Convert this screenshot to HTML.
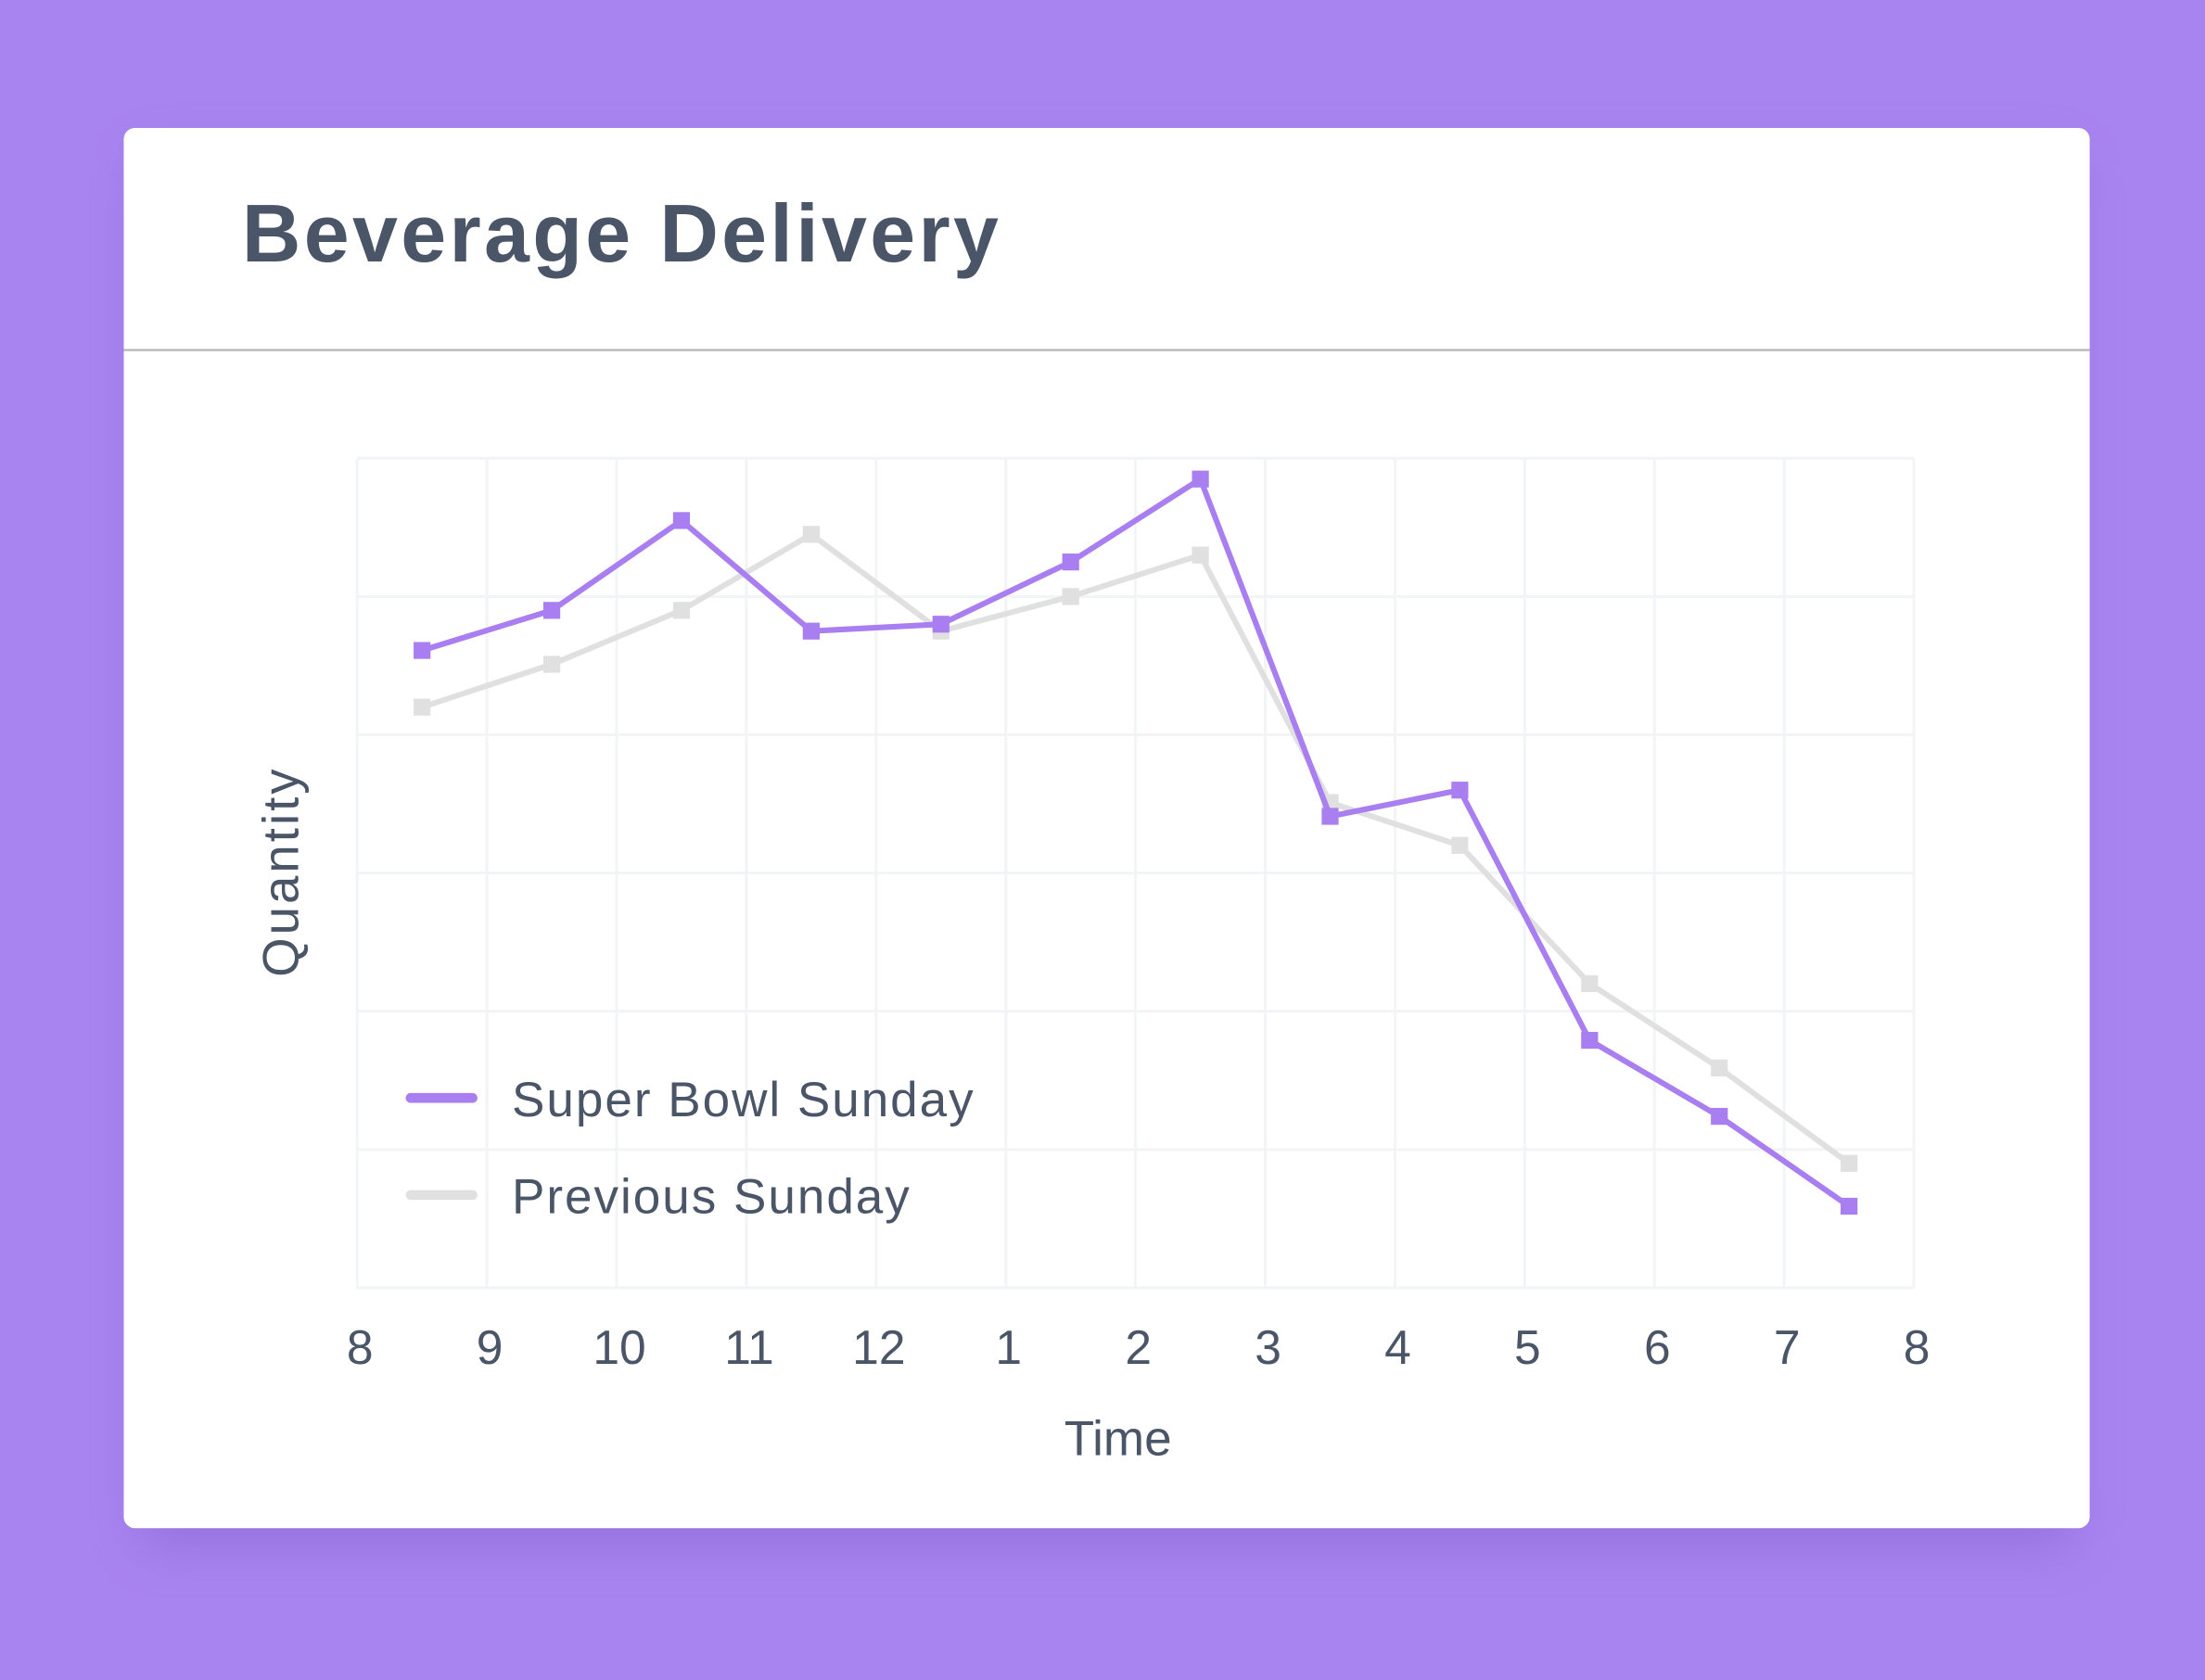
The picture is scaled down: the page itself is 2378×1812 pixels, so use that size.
<!DOCTYPE html>
<html><head><meta charset="utf-8"><style>
html,body{margin:0;padding:0;width:2378px;height:1812px;overflow:hidden;background:#a884f0;}
svg{display:block}
text{font-family:"Liberation Sans",sans-serif;fill:#4a5568}
</style></head><body>
<svg id="chart" width="2378" height="1812" viewBox="0 0 1568 1195" preserveAspectRatio="none">
<defs>
<filter id="sh" x="-10%" y="-10%" width="120%" height="130%"><feGaussianBlur stdDeviation="18"/></filter>
</defs>
<rect x="0" y="0" width="1568" height="1195" fill="#a884f0"/>
<rect x="100" y="110" width="1374" height="990" rx="8" fill="#7d5cc4" opacity="0.45" filter="url(#sh)"/>
<rect x="88" y="91" width="1398" height="996" rx="8" fill="#ffffff"/>
<text x="172" y="186" font-size="58" font-weight="bold" letter-spacing="2.2" fill="#4a5568">Beverage Delivery</text>
<line x1="88" y1="249" x2="1486" y2="249" stroke="#b8b8b8" stroke-width="1.5"/>
<g id="grid"></g>
<g id="xticks"></g>
<g id="series"></g>
<text transform="translate(212,620) rotate(-90)" text-anchor="middle" font-size="36" letter-spacing="2">Quantity</text>
<text x="795" y="1035" text-anchor="middle" font-size="35">Time</text>
<g>
<line x1="292" y1="781" x2="336" y2="781" stroke="#a87ef0" stroke-width="7" stroke-linecap="round"/>
<text x="364" y="794" font-size="35" letter-spacing="1.3">Super Bowl Sunday</text>
</g>
<g>
<line x1="292" y1="850" x2="336" y2="850" stroke="#e0e0e0" stroke-width="7" stroke-linecap="round"/>
<text x="364" y="863" font-size="35" letter-spacing="1.3">Previous Sunday</text>
</g>
</svg>
<script>
const xTickLabels=["8","9","10","11","12","1","2","3","4","5","6","7","8"];
const superBowl=[4.61,4.90,5.55,4.75,4.80,5.25,5.85,3.41,3.60,1.79,1.24,0.59];
const previous=[4.20,4.51,4.90,5.45,4.75,5.00,5.30,3.51,3.20,2.20,1.59,0.90];
const yMax=6;
const NS="http://www.w3.org/2000/svg";
const L=254,R=1361,T=326,B=916;
function xs(i){return L+(R-L)*i/12;}
function ys(v){return B-(B-T)*v/yMax;}
const grid=document.getElementById('grid');
for(let i=0;i<=12;i++){const l=document.createElementNS(NS,'line');
l.setAttribute('x1',xs(i));l.setAttribute('x2',xs(i));l.setAttribute('y1',T);l.setAttribute('y2',B);
l.setAttribute('stroke','#f3f4f6');l.setAttribute('stroke-width','2');


grid.appendChild(l);}
for(let j=0;j<=yMax;j++){const l=document.createElementNS(NS,'line');
l.setAttribute('x1',L);l.setAttribute('x2',R);l.setAttribute('y1',ys(j));l.setAttribute('y2',ys(j));
l.setAttribute('stroke','#f3f4f6');l.setAttribute('stroke-width','2');


grid.appendChild(l);}
const xt=document.getElementById('xticks');
xTickLabels.forEach((t,i)=>{const e=document.createElementNS(NS,'text');
e.setAttribute('x',xs(i)+2);e.setAttribute('y',970);e.setAttribute('text-anchor','middle');e.setAttribute('font-size','34');
e.textContent=t;


xt.appendChild(e);});
const sg=document.getElementById('series');
function draw(vals,color,name){
 const pts=vals.map((v,i)=>[xs(i+0.5),ys(v)]);
 const p=document.createElementNS(NS,'polyline');
 p.setAttribute('points',pts.map(q=>q.join(',')).join(' '));
 p.setAttribute('fill','none');p.setAttribute('stroke',color);p.setAttribute('stroke-width','4');
 
 
 sg.appendChild(p);
 pts.forEach(q=>{const r=document.createElementNS(NS,'rect');
 r.setAttribute('x',q[0]-6);r.setAttribute('y',q[1]-6);r.setAttribute('width',12);r.setAttribute('height',12);r.setAttribute('fill',color);
 
 
 sg.appendChild(r);});
}
draw(previous,'#e0e0e0','previous-sunday');
draw(superBowl,'#a87ef0','super-bowl-sunday');
</script>
</body></html>
